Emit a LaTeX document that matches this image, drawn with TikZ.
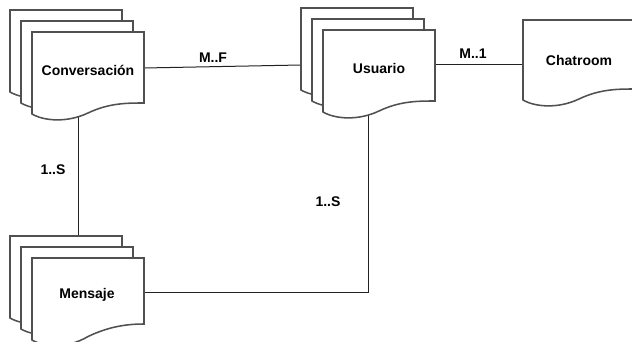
\documentclass[tikz,border=0pt]{standalone}
\usepackage{fontspec}
\setmainfont{Liberation Sans}
\definecolor{shapegray}{HTML}{505050}
\definecolor{linegray}{HTML}{222222}
\tikzset{
  shapeline/.style={draw=shapegray, line width=1.15pt, fill=white, line join=miter},
  connline/.style={draw=linegray, line width=0.75pt},
  entity/.style={font=\fontsize{10.5}{12}\selectfont\bfseries, text=black, inner sep=0pt},
  mult/.style={font=\fontsize{10.5}{12}\selectfont\bfseries, text=black, inner sep=0pt}
}
% x y hl hr : one document shape, width 112 px
\newcommand{\docshape}[4]{%
  \draw[shapeline] (#1,#2) -- ({#1+112},#2) -- ({#1+112},{#2+#4})
    .. controls ({#1+95},{#2+#4}) and ({#1+77},{#2+(#3+#4)/2-5.5}) .. ({#1+56},{#2+(#3+#4)/2+4.5})
    .. controls ({#1+35},{#2+#3+9}) and ({#1+12},{#2+#3+7}) .. (#1,{#2+#3}) -- cycle;}
% x y hl hr : stack of three documents
\newcommand{\multidoc}[4]{%
  \docshape{#1}{#2}{#3}{#4}
  \docshape{#1+11}{#2+11}{#3}{#4}
  \docshape{#1+22}{#2+22}{#3}{#4}}
\begin{document}
\begin{tikzpicture}[x=0.75pt, y=-0.75pt]
  \clip (0,0) rectangle (632,342);
  \fill[white] (0,0) rectangle (632,342);
  % connector end points
  \coordinate (convE) at (144,68);
  \coordinate (usuW) at (301,65);
  \coordinate (usuE) at (435,65);
  \coordinate (chatW) at (523,65);
  \coordinate (convS) at (78,112);
  \coordinate (mensN) at (78,236);
  \coordinate (usuS) at (368,112);
  \coordinate (bend) at (368,292);
  \coordinate (mensE) at (144,292);
  % connectors (drawn first, shapes cover their ends)
  \draw[connline] (convE) -- (usuW);
  \draw[connline] (usuE) -- (chatW);
  \draw[connline] (convS) -- (mensN);
  \draw[connline] (usuS) -- (bend) -- (mensE);
  % shapes
  \multidoc{10}{10}{82}{71}
  \multidoc{301}{8}{82}{71}
  \docshape{523}{20}{80}{69}
  \multidoc{10}{236}{82}{66}
  % texts
  \node[entity] (conv) at (88,70) {Conversación};
  \node[entity] (usu) at (379,68) {Usuario};
  \node[entity] (chat) at (579,60) {Chatroom};
  \node[entity] (mens) at (87,295) {Mensaje};
  \node[mult] (lmf) at (213,58) {M..F};
  \node[mult] (lm1) at (473,54) {M..1};
  \node[mult] (l1s) at (53,170) {1..S};
  \node[mult] (l1s2) at (328,202) {1..S};
\end{tikzpicture}
\end{document}
